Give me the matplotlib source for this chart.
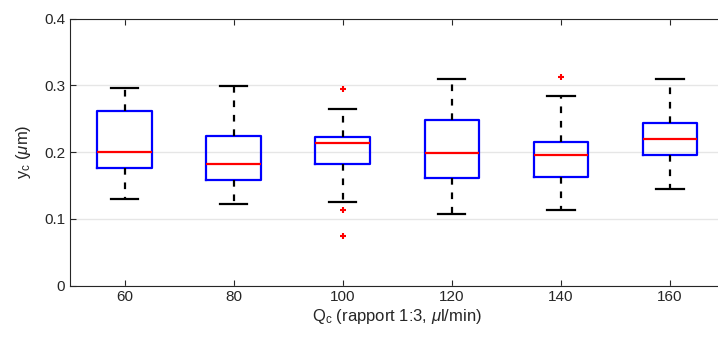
import matplotlib
matplotlib.use('Agg')
import matplotlib.pyplot as plt

plt.rcParams['font.family'] = ['Liberation Sans', 'DejaVu Sans']
plt.rcParams['mathtext.fontset'] = 'custom'
plt.rcParams['mathtext.rm'] = 'Liberation Sans'
plt.rcParams['mathtext.it'] = 'Liberation Sans:italic'

# data
flows = [60, 80, 100, 120, 140, 160]
whislo = [0.1296, 0.1228, 0.125, 0.1079, 0.1139, 0.1446]
q1 = [0.176, 0.1588, 0.182, 0.1618, 0.1625, 0.1963]
med = [0.2007, 0.182, 0.2135, 0.1985, 0.1955, 0.2195]
q3 = [0.262, 0.2247, 0.223, 0.2487, 0.2157, 0.2434]
whishi = [0.296, 0.299, 0.264, 0.309, 0.2846, 0.309]
fliers = [[], [], [0.294, 0.113, 0.0749], [], [0.313], []]

stats = []
for i in range(len(flows)):
    stats.append({'whislo': whislo[i], 'q1': q1[i], 'med': med[i],
                  'q3': q3[i], 'whishi': whishi[i], 'fliers': fliers[i]})

fig = plt.figure(figsize=(7.18, 3.37), dpi=100)
ax = fig.add_axes([0.0975, 0.1528, 0.9117, 0.792])

ax.bxp(stats, positions=flows, widths=10, capwidths=5,
       boxprops=dict(color='blue', linewidth=1.6),
       medianprops=dict(color='red', linewidth=1.6),
       whiskerprops=dict(color='black', linewidth=1.6, linestyle=(0, (3, 3.5))),
       capprops=dict(color='black', linewidth=1.6),
       flierprops=dict(marker='+', markeredgecolor='red', markersize=5, markeredgewidth=1.5))

ax.set_xlim(50, 170)
ax.set_ylim(0, 0.4)
ax.set_xticks(flows)
ax.set_xticklabels([str(f) for f in flows])
ax.set_yticks([0, 0.1, 0.2, 0.3, 0.4])
ax.set_yticklabels(['0', '0.1', '0.2', '0.3', '0.4'])
ax.yaxis.grid(True, color='#e6e6e6', linewidth=1)
ax.set_axisbelow(True)
ax.tick_params(direction='in', top=True, right=True, labelsize=11, colors='#262626', length=4)
for s in ax.spines.values():
    s.set_color('#262626')

ax.set_ylabel(r'y$_\mathrm{c}$ ($\mu$m)', fontsize=12, color='#262626', labelpad=8)
ax.set_xlabel(r'Q$_\mathrm{c}$ (rapport 1:3, $\mu$l/min)', fontsize=12, color='#262626', labelpad=2)

fig.savefig('out.png', dpi=100)
